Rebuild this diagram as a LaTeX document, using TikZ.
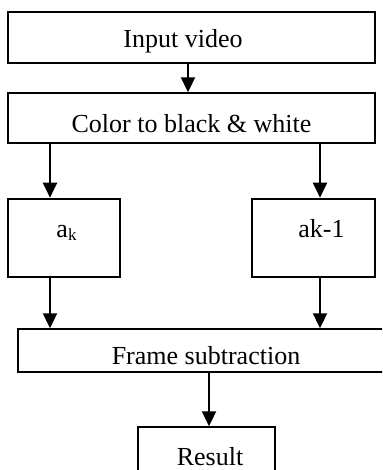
\documentclass[tikz,border=0pt]{standalone}
\usepackage{fontspec}
\setmainfont{Liberation Serif}
\usetikzlibrary{arrows.meta}
\begin{document}
\begin{tikzpicture}[x=1pt,y=-1pt,
  box/.style={draw, line width=1.4pt, inner sep=0pt},
  thickbox/.style={draw, line width=2.6pt, inner sep=0pt},
  arr/.style={line width=2pt, -{Triangle[width=14pt,length=15pt]}},
  txt/.style={anchor=base, inner sep=0pt, font=\fontsize{26}{30}\selectfont}]
\useasboundingbox (0,0) rectangle (382,470);
\clip (0,0) rectangle (382,470);
% boxes
\node[box, minimum width=367pt, minimum height=51pt] (in) at (191.5,37.5) {};
\node[box, minimum width=367pt, minimum height=50pt] (cb) at (191.5,118) {};
\node[thickbox, minimum width=112pt, minimum height=78pt] (ak) at (64,238) {};
\node[thickbox, minimum width=123pt, minimum height=78pt] (ak1) at (313.5,238) {};
\node[box, minimum width=377pt, minimum height=43pt] (fs) at (206.5,350.5) {};
\node[box, minimum width=137pt, minimum height=63pt] (res) at (206.5,458.5) {};
% texts
\node[txt] (tin) at (183,48) {Input video};
\node[txt] (tcb) at (191.5,133) {Color to black \& white};
\node[txt] (tak) at (66.5,237) {a\raisebox{-3pt}{\fontsize{17}{20}\selectfont k}};
\node[txt] (tak1) at (321.5,237) {ak-1};
\node[txt] (tfs) at (206,364) {Frame subtraction};
\node[txt] (tres) at (210,465) {Result};
% connector x positions
\coordinate (xm) at (188,0);
\coordinate (xl) at (50,0);
\coordinate (xr) at (320,0);
\coordinate (xb) at (209,0);
% connectors
\draw[arr] (in.south -| xm) -- (cb.north -| xm);
\draw[arr] (cb.south -| xl) -- (ak.north -| xl);
\draw[arr] (cb.south -| xr) -- (ak1.north -| xr);
\draw[arr] (ak.south -| xl) -- (fs.north -| xl);
\draw[arr] (ak1.south -| xr) -- (fs.north -| xr);
\draw[arr] (fs.south -| xb) -- (res.north -| xb);
\end{tikzpicture}
\end{document}
